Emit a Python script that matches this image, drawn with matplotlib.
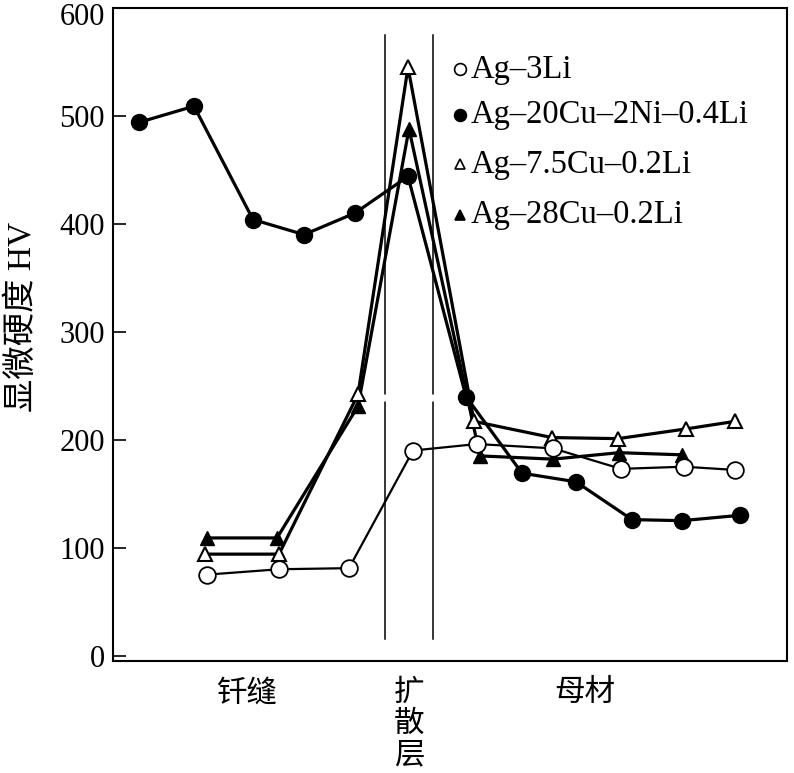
import matplotlib
matplotlib.use('Agg')
import matplotlib.pyplot as plt
import matplotlib.transforms as mtrans

plt.rcParams['font.family'] = ['Liberation Serif', 'Noto Sans CJK SC']

# positions along the joint (arbitrary distance units) and hardness HV
x_ni = [26, 81, 140, 191, 242, 295, 353, 409, 463, 519, 569, 627]
hv_ni = [494, 509, 404, 390, 410, 444, 240, 169, 161, 126, 125, 130]

x_li = [94, 166, 236, 300, 364, 440, 508, 571, 622]
hv_li = [75, 80, 81, 190, 196, 192, 173, 175, 172]

x_cu75 = [92, 166, 245, 295, 361, 439, 505, 573, 622]
hv_cu75 = [94, 94, 242, 545, 217, 202, 201, 210, 217]

x_cu28 = [94, 164, 245, 296, 367, 440, 506, 569]
hv_cu28 = [109, 109, 231, 488, 185, 182, 188, 186]

zone_bounds = [272, 320]
zone_names = ['钎缝', '扩\n散\n层', '母材']
zone_x = [134, 296, 472]

names = ['Ag–3Li', 'Ag–20Cu–2Ni–0.4Li', 'Ag–7.5Cu–0.2Li', 'Ag–28Cu–0.2Li']

fig = plt.figure(figsize=(7.94, 7.73), dpi=100)
ax = fig.add_axes([0.1423, 0.1449, 0.8489, 0.8448])

# diffusion layer boundaries, with small break marks
for xb in zone_bounds:
    ax.plot([xb, xb], [15, 575], color='black', lw=1.1, zorder=1)
    ax.plot([xb, xb], [236, 246], color='white', lw=2.5, zorder=1.5,
            dashes=(2, 1.5))

ax.plot(x_ni, hv_ni, '-o', color='black', lw=2.3, ms=11.5,
        mfc='black', mec='black', zorder=3)
ax.plot(x_cu28, hv_cu28, '-^', color='black', lw=2.3, ms=10.5,
        mfc='black', mec='black', zorder=3)
ax.plot(x_cu75, hv_cu75, '-^', color='black', lw=2.3, ms=10.5,
        mfc='white', mec='black', mew=1.5, zorder=4)
ax.plot(x_li, hv_li, '-o', color='black', lw=1.6, ms=12,
        mfc='white', mec='black', mew=1.3, zorder=4)

# legend drawn as marker + text, no frame
leg_y = [543, 501, 455, 408]
leg_style = [('o', 'white', 8.5), ('o', 'black', 8.5),
             ('^', 'white', 7.5), ('^', 'black', 7.5)]
for name, yy, (mk, fc, ms) in zip(names, leg_y, leg_style):
    ax.plot([347], [yy], mk, ms=ms, mfc=fc, mec='black', mew=1.2,
            clip_on=False, zorder=5)
    ax.text(358, yy, name, fontsize=23.5, va='center', ha='left')

ax.set_xlim(0, 674)
ax.set_ylim(-5, 600)
ax.set_yticks([0, 100, 200, 300, 400, 500, 600])
ax.set_xticks([])
ax.tick_params(axis='y', direction='in', length=9, width=1.2,
               labelsize=22, pad=6)
for sp in ax.spines.values():
    sp.set_linewidth(1.5)

# nudge the top tick label down so it stays inside the figure
top_lab = ax.get_yticklabels()[-1]
top_lab.set_transform(top_lab.get_transform() +
                      mtrans.ScaledTranslation(0, -4 / 72, fig.dpi_scale_trans))

ax.set_ylabel('显微硬度 HV', fontsize=24)
ax.yaxis.set_label_coords(-0.112, 0.527)

for name, xx in zip(zone_names, zone_x):
    ax.text(xx, -20, name, fontsize=22, ha='center', va='top',
            linespacing=1.0, family=['Noto Sans CJK SC'])

fig.savefig('out.png', dpi=100)
